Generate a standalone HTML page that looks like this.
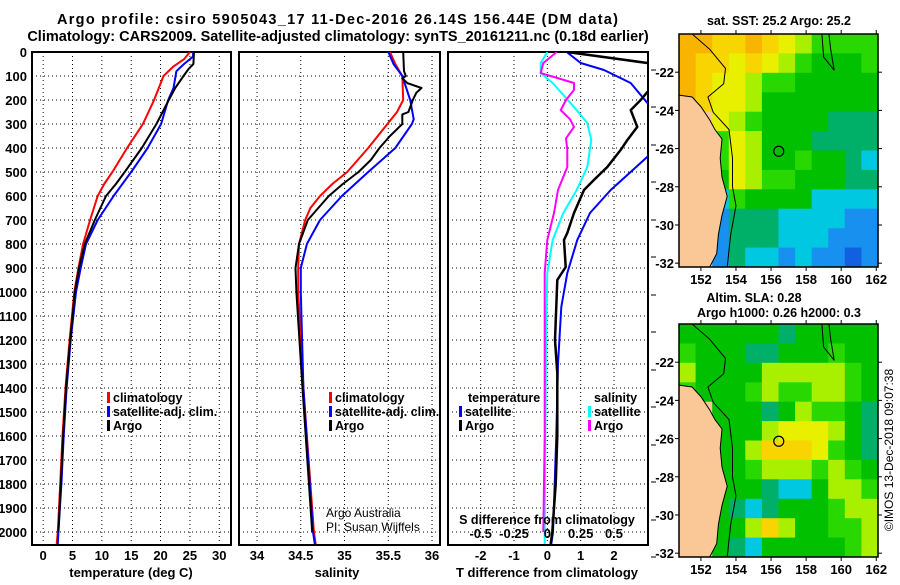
<!DOCTYPE html>
<html><head><meta charset="utf-8">
<style>
html,body{margin:0;padding:0;background:#fff;}
body{width:900px;height:580px;overflow:hidden;font-family:"Liberation Sans",sans-serif;}
svg text{font-family:"Liberation Sans",sans-serif;font-weight:bold;}
</style></head>
<body>
<svg id="chart" width="900" height="580" xmlns="http://www.w3.org/2000/svg">
<text x="57" y="24" font-size="14.5" textLength="561" lengthAdjust="spacing">Argo profile: csiro 5905043_17 11-Dec-2016 26.14S 156.44E (DM data)</text>
<text x="338" y="41" font-size="14.5" text-anchor="middle">Climatology: CARS2009. Satellite-adjusted climatology: synTS_20161211.nc (0.18d earlier)</text>
<g id="g1"></g>
<g id="g2"></g>
<g id="g3"></g>
<g id="m1"></g>
<g id="m2"></g>
<text x="0" y="0" font-size="12" transform="translate(893,450) rotate(-90)" text-anchor="middle" style="font-weight:normal">©IMOS 13-Dec-2018 09:07:38</text>
</svg>
<script>
// ---------- DATA ----------
const depthTicks=[0,100,200,300,400,500,600,700,800,900,1000,1100,1200,1300,1400,1500,1600,1700,1800,1900,2000];
const tempTicks=[0,5,10,15,20,25,30];
const salTicks=[34,34.5,35,35.5,36];
const dTTicks=[-2,-1,0,1,2];
const dSTicks=[-0.5,-0.25,0,0.25,0.5];

const tClimDepth=[0,30,60,100,200,300,400,500,550,600,700,800,900,1000,1200,1400,1600,1800,2000,2050];
const tClim=[25.0,24.0,22.2,20.5,18.9,17.0,14.3,11.8,10.4,9.3,8.0,6.8,6.0,5.3,4.5,3.8,3.3,2.9,2.5,2.3];
const tSatDepth=[0,20,50,80,150,200,300,400,500,600,700,800,900,1000,1200,1400,1600,1800,2000,2050];
const tSat=[25.6,25.5,24.0,22.7,22.2,21.3,20.1,17.8,15.0,12.0,9.3,7.3,6.4,5.6,4.7,4.0,3.5,3.1,2.6,2.5];
const tArgoDepth=[0,50,70,100,150,200,300,400,500,550,600,700,800,900,1000,1200,1400,1600,1800,2000];
const tArgo=[25.7,25.6,24.8,23.9,22.5,21.4,19.3,16.8,13.9,12.4,10.7,8.8,7.1,6.1,5.4,4.6,3.9,3.4,3.0,2.6];

const sClimDepth=[0,50,100,200,250,300,400,500,550,600,650,700,800,900,1000,1400,2000,2050];
const sClim=[35.52,35.58,35.66,35.67,35.6,35.49,35.27,35.03,34.86,34.72,34.61,34.55,34.48,34.47,34.47,34.53,34.65,34.67];
const sSatDepth=[0,50,80,100,200,280,300,400,500,600,700,800,900,1000,1400,2000,2050];
const sSat=[35.5,35.56,35.62,35.66,35.75,35.79,35.77,35.58,35.27,34.97,34.72,34.57,34.5,34.5,34.53,34.64,34.66];
const sArgoDepth=[0,80,100,110,130,150,170,200,250,260,300,350,400,450,500,550,600,700,800,900,1000,1400,2000];
const sArgo=[35.67,35.68,35.7,35.66,35.72,35.88,35.82,35.78,35.73,35.66,35.66,35.52,35.4,35.3,35.16,34.98,34.82,34.58,34.48,34.44,34.45,34.52,34.63];

const dTSatDepth=[0,46,75,129,212,300,400,437,575,671,783,921,1062,1300,1600,1800,2000,2050];
const dTSat=[0.58,1.0,1.7,2.5,3.0,3.6,3.2,3.0,1.9,1.28,0.9,0.6,0.42,0.32,0.27,0.22,0.17,0.12];
const dTArgoDepth=[0,46,100,167,200,242,312,367,408,479,533,575,671,754,783,896,950,1200,1338,1600,1800,2000,2050];
const dTArgo=[0.6,3.0,4.0,3.0,2.8,2.5,2.7,2.4,2.2,1.8,1.4,1.1,0.8,0.6,0.5,0.55,0.3,0.23,0.3,0.3,0.25,0.15,0.1];
const dSSatDepth=[0,46,88,129,229,296,367,479,575,671,783,921,1200,1600,2000,2050];
const dSSat=[0.0,-0.05,-0.05,0.04,0.2,0.3,0.33,0.3,0.22,0.12,0.04,0.0,-0.01,-0.015,-0.02,-0.02];
const dSArgoDepth=[0,46,88,104,129,158,200,242,280,312,360,408,479,575,671,783,921,1200,1600,2000];
const dSArgo=[0.07,-0.03,-0.05,0.05,0.2,0.2,0.14,0.1,0.17,0.2,0.14,0.15,0.15,0.08,0.05,0.0,-0.02,-0.02,-0.02,-0.03];

// map grids: 12 rows (lat -20.5..-31.5) x 12 cols (lon 151..161.5); -1 = land
const sstGrid=[
[9,9,8,8,9,8,7,6,5,5,5,5],
[9,8,8,7,8,7,6,5,4,4,4,5],
[9,8,7,7,6,5,5,4,4,4,4,4],
[9,8,7,7,6,4,4,4,4,4,4,4],
[-1,-1,7,6,5,4,4,4,4,3,3,3],
[-1,-1,5,7,6,4,4,4,3,3,3,3],
[-1,-1,5,7,6,4,4,5,4,4,3,2],
[-1,-1,4,7,6,5,5,4,4,4,3,3],
[-1,-1,2,5,4,4,4,4,2,2,2,2],
[-1,-1,1,3,3,3,2,2,2,2,1,1],
[-1,-1,1,3,3,3,2,2,2,1,1,1],
[-1,-1,1,3,2,2,1,2,1,1,0,1]];
const slaGrid=[
[4,4,4,4,4,4,3,4,4,4,4,4],
[5,4,4,4,3,3,4,4,4,5,4,4],
[6,4,4,4,4,6,6,6,6,6,5,4],
[5,4,4,4,5,6,5,5,6,6,5,4],
[-1,-1,4,4,4,3,4,6,5,5,4,3],
[-1,-1,4,4,4,6,7,7,7,6,4,3],
[-1,-1,4,4,6,8,8,8,7,5,4,3],
[-1,-1,4,4,5,6,6,6,5,6,5,4],
[-1,-1,4,4,4,3,2,2,4,6,6,5],
[-1,-1,4,3,2,3,4,4,4,5,6,6],
[-1,-1,4,4,6,8,6,4,4,5,5,6],
[-1,-1,4,3,2,4,4,4,4,4,5,6]];
const latTicks=[-22,-24,-26,-28,-30,-32];
const lonTicks=[152,154,156,158,160,162];
const argoPos=[156.44,-26.14];

// ---------- DRAW ----------
const NS='http://www.w3.org/2000/svg';
function mk(parent,tag,attrs,txt){const e=document.createElementNS(NS,tag);for(const k in attrs)e.setAttribute(k,attrs[k]);if(txt!==undefined)e.textContent=txt;parent.appendChild(e);return e;}
const top0=52, bot0=545;
const yD=d=>top0+d*0.24;

function panel(g,x0,x1,xdom,ticks,tickFmt,name){
  const xs=v=>x0+(v-xdom[0])/(xdom[1]-xdom[0])*(x1-x0);
  ticks.forEach(t=>{const x=xs(t);if(x>x0+1&&x<x1-1){const l=mk(g,'line',{x1:x,x2:x,y1:top0,y2:bot0,stroke:'#000','stroke-width':1,'stroke-dasharray':'1,3'});
  }});
  depthTicks.forEach(d=>{const l=mk(g,'line',{x1:x0,x2:x1,y1:yD(d),y2:yD(d),stroke:'#000','stroke-width':1,'stroke-dasharray':'1,3'});
  });
  const r=mk(g,'rect',{x:x0,y:top0,width:x1-x0,height:bot0-top0,fill:'none',stroke:'#000','stroke-width':2});
  
  return xs;
}
function line(g,xs,depths,vals,color,w,name,clip){
  const pts=depths.map((d,i)=>xs(vals[i]).toFixed(1)+','+yD(d).toFixed(1)).join(' ');
  const p=mk(g,'polyline',{points:pts,fill:'none',stroke:color,'stroke-width':w,'stroke-linejoin':'round'});
  if(clip)p.setAttribute('clip-path','url(#'+clip+')');
  
}
function xlabels(g,xs,ticks,y,name,fmt){
  ticks.forEach(t=>{const tx=mk(g,'text',{x:xs(t),y:y,'font-size':13,'text-anchor':'middle'},fmt?fmt(t):String(t));
  });
}
function legend(g,x,y0,items){
  items.forEach((it,i)=>{const y=y0+i*14;
    const m=mk(g,'rect',{x:x,y:y-10,width:3,height:11,fill:it[1]});
    
    const t=mk(g,'text',{x:x+6,y:y,'font-size':12.5},it[0]);
    });
}
const defs=mk(document.getElementById('chart'),'defs',{});
const cp=mk(defs,'clipPath',{id:'c3'});mk(cp,'rect',{x:448,y:52,width:200,height:493});

// panel 1
const g1=document.getElementById('g1');
const xT=panel(g1,32,231,[-1.9,32],tempTicks,null,'temp');
depthTicks.forEach(d=>{const t=mk(g1,'text',{x:27,y:yD(d)+5,'font-size':13,'text-anchor':'end'},String(d));
});
line(g1,xT,tClimDepth,tClim,'#f00',2,'temp-climatology-line');
line(g1,xT,tSatDepth,tSat,'#00f',2,'temp-satellite-line');
line(g1,xT,tArgoDepth,tArgo,'#000',2,'temp-argo-line');
xlabels(g1,xT,tempTicks,560,'temp-tick-label');
mk(g1,'text',{x:131,y:577,'font-size':13,'text-anchor':'middle',},'temperature (deg C)');
legend(g1,107,402,[['climatology','#f00'],['satellite-adj. clim.','#00f'],['Argo','#000']]);

// panel 2
const g2=document.getElementById('g2');
const xS=panel(g2,239,440,[33.794,36.091],salTicks,null,'sal');
line(g2,xS,sClimDepth,sClim,'#f00',2,'sal-climatology-line');
line(g2,xS,sSatDepth,sSat,'#00f',2,'sal-satellite-line');
line(g2,xS,sArgoDepth,sArgo,'#000',2,'sal-argo-line');
xlabels(g2,xS,salTicks,560,'sal-tick-label');
mk(g2,'text',{x:337,y:577,'font-size':13,'text-anchor':'middle',},'salinity');
legend(g2,329,402,[['climatology','#f00'],['satellite-adj. clim.','#00f'],['Argo','#000']]);
mk(g2,'text',{x:326,y:517,'font-size':12,style:'font-weight:normal',},'Argo Australia');
mk(g2,'text',{x:326,y:531,'font-size':12,style:'font-weight:normal',},'PI: Susan Wijffels');

// panel 3
const g3=document.getElementById('g3');
const xdT=panel(g3,448,648,[-2.98,3.02],dTTicks,null,'diff');
const xdS=v=>xdT(v*4);
line(g3,xdS,dSSatDepth,dSSat,'#0ff',2,'sal-diff-satellite-line','c3');
line(g3,xdS,dSArgoDepth,dSArgo,'#f0f',2,'sal-diff-argo-line','c3');
line(g3,xdT,dTSatDepth,dTSat,'#00f',2,'temp-diff-satellite-line','c3');
line(g3,xdT,dTArgoDepth,dTArgo,'#000',2.5,'temp-diff-argo-line','c3');
xlabels(g3,xdT,dTTicks,560,'temp-diff-tick-label');
xlabels(g3,xdS,dSTicks,538,'sal-diff-tick-label');
mk(g3,'text',{x:547,y:524,'font-size':12.5,'text-anchor':'middle',},'S difference from climatology');
mk(g3,'text',{x:547,y:577,'font-size':13,'text-anchor':'middle',},'T difference from climatology');
mk(g3,'text',{x:468,y:402,'font-size':12.5,},'temperature');
legend(g3,459,416,[['satellite','#00f'],['Argo','#000']]);
mk(g3,'text',{x:594,y:402,'font-size':12.5,},'salinity');
legend(g3,588,416,[['satellite','#0ff'],['Argo','#f0f']]);
[70,107,145,182,220,257,295,332,370,407,445,482,520,557].forEach(y=>{mk(g3,'line',{x1:651,x2:656,y1:y,y2:y,stroke:'#000','stroke-width':1,});});

// maps
const pal=['#1060e0','#1890f0','#00c8e0','#00b068','#00c000','#28d800','#a8f000','#e8f000','#f8d400','#f8b400'];
const land='#f9c896';
function drawMap(g,y0,grid,name){
  const x0=679,x1=878,y1=y0+233;
  const lx=lon=>x0+(lon-150.75)/(162.1-150.75)*(x1-x0);
  const ly=lat=>y0+(-20-lat)/12.2*(y1-y0);
  grid.forEach((row,r)=>row.forEach((v,c)=>{
    const lo=150.75+c*(11.35/12), la=-20-r*(12.2/12);
    const cell=mk(g,'rect',{x:lx(lo).toFixed(1),y:ly(la).toFixed(1),width:(lx(lo+11.35/12)-lx(lo)+0.6).toFixed(1),height:(ly(la-12.2/12)-ly(la)+0.6).toFixed(1),fill:v<0?land:pal[v]});
    
  }));
  const coast=[[150.75,-23.2],[151.5,-23.3],[152.0,-23.8],[152.5,-24.5],[152.8,-25],[153.2,-25.5],[153.1,-26.5],[153.2,-27.5],[153.5,-28.5],[153.2,-29.5],[153.0,-30.5],[152.9,-31.5],[152.5,-32.2],[150.75,-32.2]];
  const lp=mk(g,'polygon',{points:coast.map(p=>lx(p[0]).toFixed(1)+','+ly(p[1]).toFixed(1)).join(' '),fill:land,stroke:'#000','stroke-width':1});
  
  const iso=[[151.5,-20],[152.5,-20.8],[153.4,-21.8],[153.3,-22.6],[152.4,-23.3],[152.7,-24.1],[153.6,-25.0],[153.8,-26.5],[153.8,-28],[154,-29],[153.7,-30.5],[153.5,-32.2]];
  const ip=mk(g,'polyline',{points:iso.map(p=>lx(p[0]).toFixed(1)+','+ly(p[1]).toFixed(1)).join(' '),fill:'none',stroke:'#000','stroke-width':1});
  
  const reef=[[158.9,-20],[159.0,-21.2],[159.6,-21.9],[159.4,-20.8],[159.3,-20]];
  mk(g,'polyline',{points:reef.map(p=>lx(p[0]).toFixed(1)+','+ly(p[1]).toFixed(1)).join(' '),fill:'none',stroke:'#000','stroke-width':1,});
  const c=mk(g,'circle',{cx:lx(argoPos[0]),cy:ly(argoPos[1]),r:5,fill:'none',stroke:'#000','stroke-width':1.2});
  
  const f=mk(g,'rect',{x:x0,y:y0,width:x1-x0,height:y1-y0,fill:'none',stroke:'#000','stroke-width':1.5});
  
  latTicks.forEach(la=>{const y=ly(la);
    mk(g,'line',{x1:x0-4,x2:x0,y1:y,y2:y,stroke:'#000',});
    mk(g,'line',{x1:x1,x2:x1+4,y1:y,y2:y,stroke:'#000',});
    const t=mk(g,'text',{x:x0-5,y:y+5,'font-size':13,'text-anchor':'end'},String(la));
    });
  lonTicks.forEach(lo=>{const x=lx(lo);
    mk(g,'line',{x1:x,x2:x,y1:y0-4,y2:y0,stroke:'#000',});
    mk(g,'line',{x1:x,x2:x,y1:y1,y2:y1+4,stroke:'#000',});
    const t=mk(g,'text',{x:x,y:y1+17,'font-size':13,'text-anchor':'middle'},String(lo));
    });
}
const m1=document.getElementById('m1'),m2=document.getElementById('m2');
drawMap(m1,34,sstGrid,'sst-map');
drawMap(m2,324,slaGrid,'sla-map');
mk(m1,'text',{x:779,y:25,'font-size':12.5,'text-anchor':'middle',},'sat. SST: 25.2 Argo: 25.2');
mk(m2,'text',{x:754,y:302,'font-size':12.5,'text-anchor':'middle',},'Altim. SLA: 0.28');
mk(m2,'text',{x:779,y:317,'font-size':12.5,'text-anchor':'middle',},'Argo h1000: 0.26 h2000: 0.3');
</script>
</body></html>
